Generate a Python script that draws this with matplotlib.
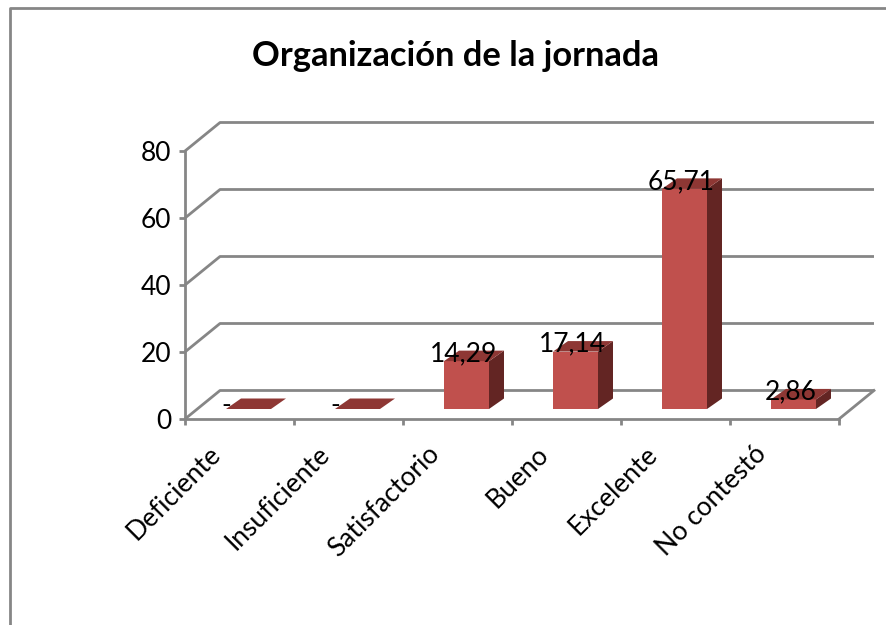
import matplotlib
matplotlib.use("Agg")
import matplotlib.pyplot as plt
from matplotlib.patches import Polygon
from matplotlib.lines import Line2D
from matplotlib.transforms import ScaledTranslation

categories = ["Deficiente", "Insuficiente", "Satisfactorio", "Bueno", "Excelente", "No contestó"]
values = [0, 0, 14.29, 17.14, 65.71, 2.86]
value_labels = ["-", "-", "14,29", "17,14", "65,71", "2,86"]
y_ticks = [0, 20, 40, 60, 80]
title = "Organización de la jornada"

W, H = 886, 625
GREY = "#868686"
FRONT, SIDE, TOP = "#C0504D", "#632523", "#8E3734"
LW = 2.0
plt.rcParams["font.family"] = ["Lato", "DejaVu Sans"]

fig = plt.figure(figsize=(W / 100, H / 100), dpi=100, facecolor="white")
ax = fig.add_axes([185 / W, (H - 419) / H, 654 / W, 268 / H])
ax.set_xlim(0, len(categories))
ax.set_ylim(0, 80)
ax.patch.set_alpha(0)

px = len(categories) / 654   # data units per pixel, x
py = 80 / 268                # data units per pixel, y
back_x, back_y = 35 * px, 28.5 * py

# walls and gridlines
for v in y_ticks:
    ax.plot([0, back_x, len(categories) + back_x], [v, v + back_y, v + back_y],
            color=GREY, lw=LW, clip_on=False, zorder=1, solid_capstyle="butt")
ax.plot([len(categories), len(categories) + back_x], [0, back_y],
        color=GREY, lw=LW, clip_on=False, zorder=1)

# bars
bw, shift_x, shift_y = 45 * px, 9 * px, 10 * py
dx, dy = 15 * px, 10.5 * py
for i, (v, lab) in enumerate(zip(values, value_labels)):
    x0 = i + 0.5 - bw / 2 + shift_x
    x1 = x0 + bw
    y0 = shift_y
    y1 = y0 + v
    if v > 0:
        ax.add_patch(Polygon([(x0, y0), (x1, y0), (x1, y1), (x0, y1)], fc=FRONT, ec="none", zorder=3, clip_on=False))
        ax.add_patch(Polygon([(x1, y0), (x1 + dx, y0 + dy), (x1 + dx, y1 + dy), (x1, y1)], fc=SIDE, ec="none", zorder=3, clip_on=False))
    ax.add_patch(Polygon([(x0, y1), (x1, y1), (x1 + dx, y1 + dy), (x0 + dx, y1 + dy)], fc=TOP, ec="none", zorder=3, clip_on=False))
    lx = (x0 + x1) / 2 - 3 * px
    ly = y1 + 7.5 * py
    if v == 0:
        lx, ly = x0 + 0.5 * px, y1 + 4 * py
    ax.text(lx, ly, lab, ha="center", va="center", fontsize=19, color="black", zorder=5, clip_on=False)

# axes
for s in ("top", "right"):
    ax.spines[s].set_visible(False)
for s in ("left", "bottom"):
    ax.spines[s].set_color(GREY)
    ax.spines[s].set_linewidth(LW)
    ax.spines[s].set_zorder(2)
ax.set_yticks(y_ticks)
ax.set_yticklabels([str(v) for v in y_ticks], fontsize=19)
ax.set_xticks(range(len(categories) + 1))
ax.set_xticklabels([])
ax.set_xticks([i + 0.5 for i in range(len(categories))], minor=True)
ax.set_xticklabels(categories, minor=True, fontsize=19, rotation=45, ha="right", va="top",
                   rotation_mode="anchor")
ax.tick_params(axis="both", which="major", color=GREY, width=LW, length=4)
ax.tick_params(axis="y", which="major", pad=6)
ax.tick_params(axis="x", which="minor", length=0, pad=16)
shift = ScaledTranslation(-31 / 100, 0, fig.dpi_scale_trans)
for t in ax.get_xticklabels(minor=True):
    t.set_transform(t.get_transform() + shift)

fig.text(455 / W, 1 - 56 / H, title, ha="center", va="center", fontsize=24.8, fontweight="bold")

# chart-area border (left and top edges are in view)
fig.add_artist(Line2D([9.5 / W, 9.5 / W, 1], [0, 1 - 7.5 / H, 1 - 7.5 / H], color=GREY, lw=LW,
                      transform=fig.transFigure))

fig.savefig("out.png", dpi=100)
